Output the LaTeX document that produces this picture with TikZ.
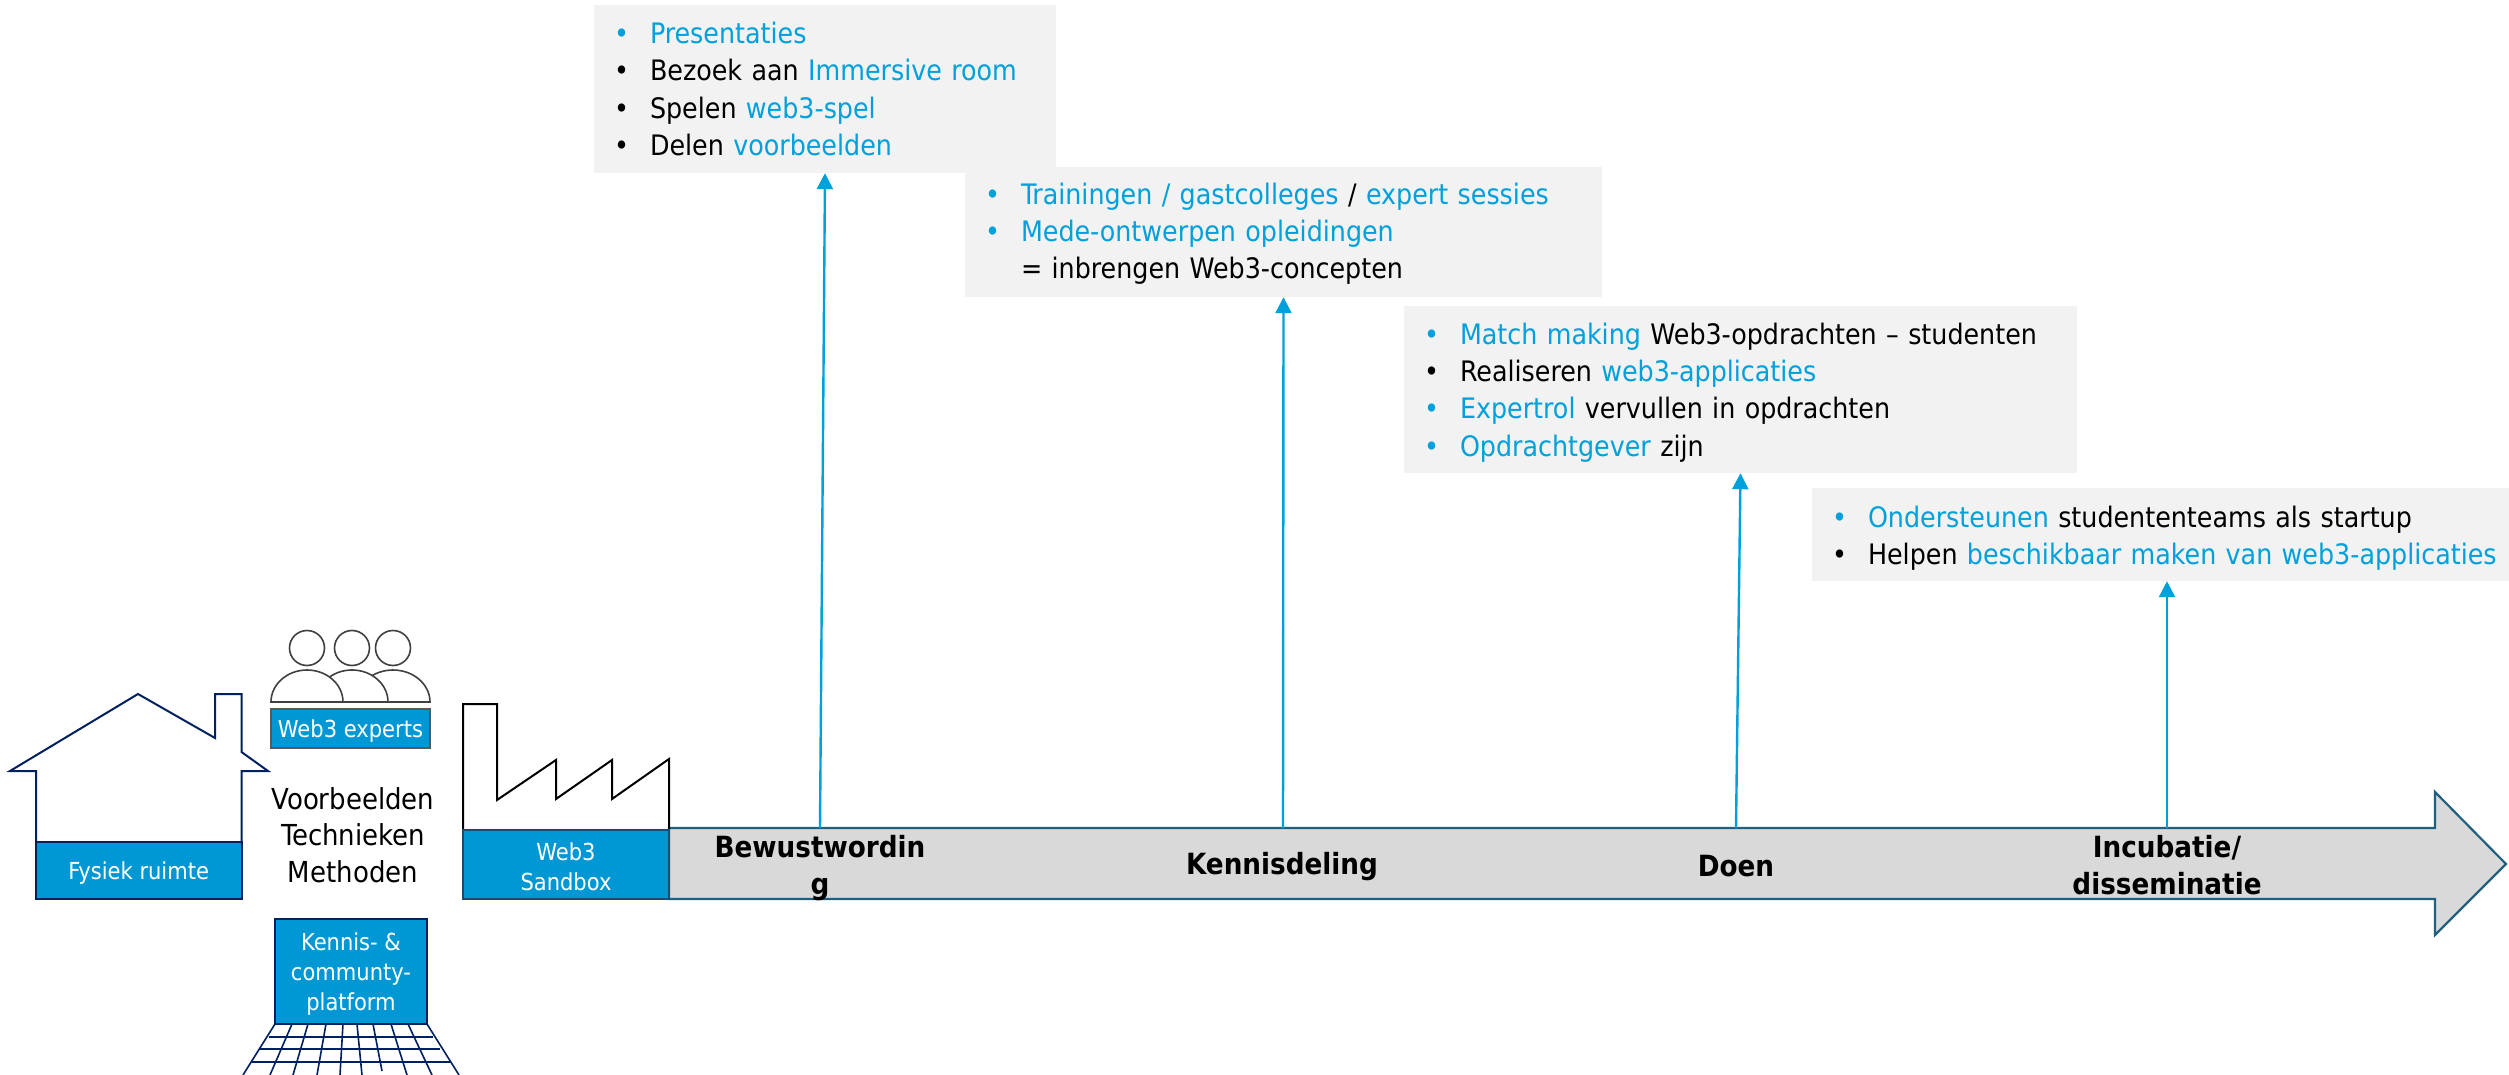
\documentclass[tikz,border=0pt]{standalone}
\usepackage{fontspec}
\setmainfont{DejaVu Sans Condensed}
\usepackage{xcolor}
\usetikzlibrary{arrows.meta}
\definecolor{webblue}{HTML}{0098D4}
\definecolor{listblue}{HTML}{00A0DC}
\definecolor{navy}{HTML}{002060}
\definecolor{barline}{HTML}{1F6080}
\newcommand{\hl}[1]{\textcolor{listblue}{#1}}
\newcommand{\blt}[1]{\makebox[36pt][l]{\textcolor{#1}{\textbullet}}}
\newcommand{\lowr}{\rule{0pt}{22pt}}

\begin{document}
\begin{tikzpicture}[
  x=1pt,y=-1pt,
  listbox/.style={rectangle,fill=black!5,inner xsep=20pt,inner ysep=0pt,align=left,
    font=\fontsize{28.2}{37.3}\selectfont},
  blue label/.style={rectangle,fill=webblue,text=white,align=center,inner sep=0pt,
    font=\fontsize{23.4}{30}\selectfont},
  step label/.style={align=center,inner sep=0pt,font=\fontsize{29.2}{37}\selectfont\bfseries},
  up arrow/.style={draw=listblue,line width=2.4pt,-{Triangle[width=16pt,length=16pt]}},
  outline/.style={draw=navy,line width=2pt,line join=miter},
  person/.style={draw=black!75,line width=1.6pt,fill=white},
]

\path [use as bounding box,fill=white] (0,0) rectangle (2509,1075);

% timeline
\draw [fill=black!15,draw=barline,line width=2.2pt]
  (669,828) -- (2435,828) -- (2435,792) -- (2506,864) -- (2435,935) -- (2435,899) -- (669,899) -- cycle;
\coordinate (bewustpoint) at (820,828);
\coordinate (kennispoint) at (1283,828);
\coordinate (doenpoint) at (1736,828);
\coordinate (incubpoint) at (2167,828);
\node [step label] (bewustlabel) at (820,868) {Bewustwordin\\g};
\node [step label] (kennislabel) at (1282,867) {Kennisdeling};
\node [step label] (doenlabel) at (1736,866) {Doen};
\node [step label] (incublabel) at (2167,865) {Incubatie/\\disseminatie};

% lists
\node [listbox,minimum width=462pt,minimum height=168pt,text width=422pt] (presbox) at (825,89) {%
  \blt{listblue}\hl{Presentaties}\\
  \blt{black}Bezoek aan \hl{Immersive room}\\
  \blt{black}Spelen \hl{web3-spel}\\
  \blt{black}Delen \hl{voorbeelden}};
\node [listbox,minimum width=637pt,minimum height=130pt,text width=597pt,text height=25pt] (trainbox) at (1283.5,232) {%
  \blt{listblue}\hl{Trainingen / gastcolleges} / \hl{expert sessies}\\
  \blt{listblue}\hl{Mede-ontwerpen opleidingen}\\
  \hspace*{36pt}= inbrengen Web3-concepten};
\node [listbox,minimum width=673pt,minimum height=167pt,text width=633pt,text height=27pt] (matchbox) at (1740.5,389.5) {%
  \blt{listblue}\hl{Match making} Web3-opdrachten -- studenten\\
  \blt{black}Realiseren \hl{web3-applicaties}\\
  \blt{listblue}\hl{Expertrol} vervullen in opdrachten\\
  \blt{listblue}\hl{Opdrachtgever} zijn};
\node [listbox,minimum width=710pt,minimum height=93pt,text width=670pt,text height=29pt] (startbox) at (2167,534.5) {%
  \blt{listblue}\hl{Ondersteunen} studententeams als startup\\
  \blt{black}Helpen \hl{beschikbaar maken van web3-applicaties}};

\draw [up arrow] (bewustpoint) -- (presbox.south);
\draw [up arrow] (kennispoint) -- (trainbox.south);
\draw [up arrow] (doenpoint) -- (matchbox.south);
\draw [up arrow] (incubpoint) -- (startbox.south);

% house
\draw [outline] (36,842) -- (36,771) -- (10,771) -- (138,694) -- (215,738) -- (215,694)
  -- (241.5,694) -- (241.5,752) -- (268,771) -- (241.5,771) -- (241.5,842);
\node [blue label,draw=navy,line width=2pt,minimum width=205.5pt,minimum height=57pt] (fysiek) at (138.75,870.5) {\lowr Fysiek ruimte};

% people
\draw [person] (430,702) arc [x radius=37,y radius=32,start angle=0,end angle=-180] -- cycle;
\draw [person] (388,702) arc [x radius=36,y radius=32,start angle=0,end angle=-180] -- cycle;
\draw [person] (343,702) arc [x radius=36,y radius=32,start angle=0,end angle=-180] -- cycle;
\foreach \cx in {307,352,393}
  \draw [person] (\cx,648) circle [radius=17.5];
\node [blue label,draw=black!65,line width=2pt,minimum width=159pt,minimum height=39pt] (experts) at (350.5,728.5) {\lowr Web3 experts};

\node [align=center,inner sep=0pt,font=\fontsize{28.9}{36.6}\selectfont] (methods) at (353,835) {Voorbeelden\\Technieken\\Methoden};

% factory
\draw [draw=black,line width=2pt,line join=miter] (463,830) -- (463,704) -- (497,704) -- (497,800) -- (556,760)
  -- (556,799) -- (612,760) -- (612,799) -- (669,759) -- (669,830);
\node [blue label,draw=barline!70!navy,line width=1.6pt,minimum width=206pt,minimum height=69pt] (sandbox) at (566,864.5) {\lowr Web3\\Sandbox};

% laptop
\foreach \tx/\bx/\by in {275/243/1075,292/270/1075,308/293/1075,326/317/1075,343/340/1075,357/362/1075,373/382/1071,391/407/1075,408/432/1075,427/459/1075}
  \draw [navy,line width=1.6pt] (\tx,1024) -- (\bx,\by);
\foreach \ly/\lx/\rx in {1037/269/433,1049/259/440,1062/252/450}
  \draw [navy,line width=1.6pt] (\lx,\ly) -- (\rx,\ly);
\node [blue label,draw=navy,line width=1.6pt,minimum width=152pt,minimum height=105pt] (platform) at (351,971.5) {\lowr Kennis- \&\\communty-\\platform};

\end{tikzpicture}
\end{document}
